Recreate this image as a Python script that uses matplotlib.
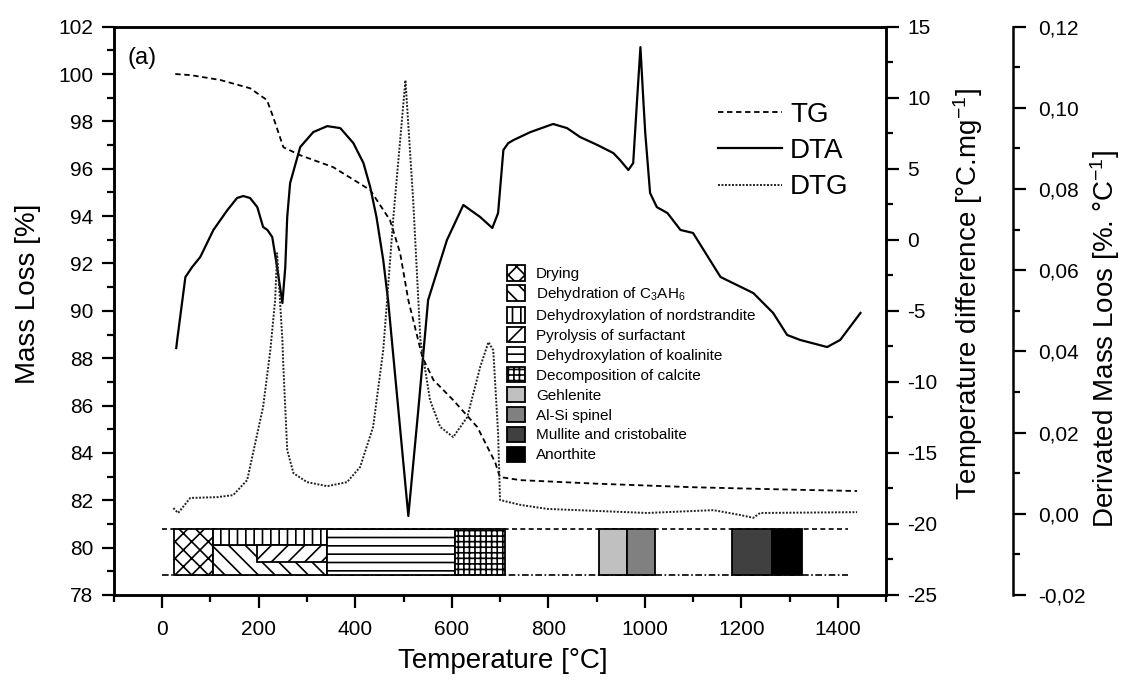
import matplotlib
matplotlib.use("Agg")
import matplotlib.pyplot as plt
from matplotlib.patches import Patch
from matplotlib.lines import Line2D
from matplotlib.ticker import MultipleLocator, FuncFormatter

plt.rcParams["font.family"] = ["Liberation Sans", "DejaVu Sans"]
plt.rcParams["mathtext.fontset"] = "custom"
plt.rcParams["mathtext.rm"] = "Liberation Sans"
plt.rcParams["mathtext.it"] = "Liberation Sans:italic"
plt.rcParams["axes.unicode_minus"] = False
plt.rcParams["hatch.linewidth"] = 1.2

# --- TG (mass loss, %) ---
tg_temp = [27, 60, 120, 182, 217, 230, 251, 286, 354, 431, 472, 493, 510, 539, 562,
           603, 653, 690, 697, 700, 742, 900, 1100, 1300, 1440]
tg_mass = [100.0, 99.95, 99.75, 99.4, 98.9, 98.18, 96.91, 96.57, 96.07, 95.1, 93.83,
           92.44, 90.45, 88.05, 87.08, 86.23, 85.09, 83.6, 83.15, 82.98, 82.85, 82.7,
           82.55, 82.45, 82.39]

# --- DTA (temperature difference, °C/mg) ---
dta_temp = [29, 31, 48, 62, 79, 106, 135, 155, 168, 182, 197, 209, 218, 228, 238, 249,
            255, 259, 265, 286, 313, 342, 369, 396, 417, 431, 444, 458, 468, 489, 510,
            531, 551, 590, 624, 659, 684, 696, 707, 717, 728, 763, 810, 839, 866, 902,
            935, 949, 966, 976, 984, 991, 997, 1001, 1011, 1025, 1047, 1074, 1100, 1157,
            1225, 1266, 1295, 1322, 1378, 1405, 1447]
dta_val = [-7.62, -7.05, -2.62, -1.92, -1.2, 0.69, 2.09, 2.94, 3.08, 2.94, 2.3, 0.9,
           0.69, 0.19, -1.92, -4.45, -1.92, 1.6, 3.99, 6.53, 7.58, 8.0, 7.86, 6.81, 5.4,
           3.71, 1.6, -1.43, -4.24, -11.84, -19.44, -11.84, -4.24, -0.02, 2.45, 1.6,
           0.83, 1.88, 6.32, 6.8, 7.02, 7.58, 8.15, 7.86, 7.23, 6.67, 6.1, 5.6, 4.91,
           5.4, 9.83, 13.56, 9.83, 7.51, 3.29, 2.3, 1.88, 0.69, 0.48, -2.62, -3.75,
           -5.15, -6.7, -7.05, -7.55, -7.05, -5.15]

# --- DTG (derivated mass loss, %/°C) ---
dtg_temp = [23, 33, 58, 114, 147, 176, 209, 224, 234, 238, 249, 251, 259, 272, 300,
            342, 383, 410, 437, 458, 466, 479, 504, 520, 535, 555, 576, 603, 632, 659,
            676, 686, 696, 700, 742, 798, 1005, 1142, 1198, 1225, 1239, 1440]
dtg_val = [0.0014, 0.0002, 0.0039, 0.0041, 0.0046, 0.0083, 0.0263, 0.0403, 0.0527,
           0.0642, 0.0428, 0.0362, 0.0157, 0.0100, 0.0078, 0.0068, 0.0078, 0.0115,
           0.0214, 0.0403, 0.0527, 0.0731, 0.1068, 0.0773, 0.0428, 0.0280, 0.0214,
           0.0189, 0.0238, 0.0362, 0.0423, 0.0403, 0.0199, 0.0034, 0.0022, 0.0012,
           0.0002, 0.0009, -0.0003, -0.0010, 0.0002, 0.0004]

# --- phase bands (temperature ranges, drawn in TG units) ---
phase_names = ["Drying", "Dehydration of C$_3$AH$_6$", "Dehydroxylation of nordstrandite",
               "Pyrolysis of surfactant", "Dehydroxylation of koalinite",
               "Decomposition of calcite", "Gehlenite", "Al-Si spinel",
               "Mullite and cristobalite", "Anorthite"]
phase_start = [25, 105, 105, 197, 342, 607, 906, 964, 1181, 1264]
phase_end = [105, 342, 342, 342, 607, 711, 964, 1022, 1264, 1326]
phase_low = [78.84, 78.84, 80.11, 79.39, 78.84, 78.84, 78.84, 78.84, 78.84, 78.84]
phase_high = [80.79, 80.11, 80.79, 80.11, 80.79, 80.79, 80.79, 80.79, 80.79, 80.79]
phase_hatch = ["xx", "\\\\", "||", "//", "--", "+++", "", "", "", ""]
phase_legend_hatch = ["xx", "\\\\", "||", "//", "--", "+++", "", "", "", ""]
phase_color = ["white", "white", "white", "white", "white", "white",
               "#c0c0c0", "#808080", "#404040", "#000000"]
band_temp = [0, 1422]
band_top = 80.79
band_bottom = 78.84

fig = plt.figure(figsize=(11.23, 6.82), dpi=100)
ax = fig.add_axes([0.1015, 0.1276, 0.6875, 0.8333])
ax2 = ax.twinx()
ax3 = ax.twinx()

# phase band outline
ax.plot(band_temp, [band_top, band_top], color="black", lw=1.2, ls=(0, (3, 2)), zorder=1)
ax.plot(band_temp, [band_bottom, band_bottom], color="black", lw=1.2,
        ls=(0, (4, 1.5, 1, 1.5)), zorder=1)
for s, e, lo, hi, h, c in zip(phase_start, phase_end, phase_low, phase_high, phase_hatch, phase_color):
    ax.bar(s, hi - lo, width=e - s, bottom=lo, align="edge", facecolor=c,
           edgecolor="black", hatch=h, linewidth=1.3, zorder=2)

ax.plot(tg_temp, tg_mass, color="black", lw=1.3, ls=(0, (3, 2)))
ax2.plot(dta_temp, dta_val, color="black", lw=1.6)
ax3.plot(dtg_temp, dtg_val, color="#222222", lw=1.4, ls=(0, (1, 0.8)))

ax.set_xlim(-100, 1500)
ax.set_ylim(78, 102)
ax2.set_ylim(-25, 15)
ax3.set_ylim(-0.02, 0.12)

ax.xaxis.set_major_locator(MultipleLocator(200))
ax.xaxis.set_minor_locator(MultipleLocator(100))
ax.yaxis.set_major_locator(MultipleLocator(2))
ax.yaxis.set_minor_locator(MultipleLocator(1))
ax2.yaxis.set_major_locator(MultipleLocator(5))
ax2.yaxis.set_minor_locator(MultipleLocator(2.5))
ax3.yaxis.set_major_locator(MultipleLocator(0.02))
ax3.yaxis.set_minor_locator(MultipleLocator(0.01))
ax3.yaxis.set_major_formatter(FuncFormatter(lambda v, p: f"{v:.2f}".replace(".", ",")))

ax3.spines["right"].set_position(("axes", 1.165))
for sp in ("top", "bottom", "left"):
    ax3.spines[sp].set_visible(False)

for a in (ax, ax2, ax3):
    for sp in a.spines.values():
        sp.set_linewidth(1.8)
    a.tick_params(which="major", direction="out", length=9, width=1.6, labelsize=15, pad=6)
    a.tick_params(which="minor", direction="out", length=5, width=1.6)
ax.tick_params(axis="x", which="major", pad=9)
ax3.tick_params(axis="y", which="major", pad=9)
ax.tick_params(axis="x", which="both", top=False)

ax.set_xlabel("Temperature [°C]", fontsize=20)
ax.set_ylabel("Mass Loss [%]", fontsize=20)
ax2.set_ylabel("Temperature difference [°C.mg$^{-1}$]", fontsize=20)
ax3.set_ylabel("Derivated Mass Loos [%. °C$^{-1}$]", fontsize=20)
ax.xaxis.set_label_coords(0.504, -0.093)
ax.yaxis.set_label_coords(-0.094, 0.53)
ax2.yaxis.set_label_coords(1.085, 0.53)
ax3.yaxis.set_label_coords(1.262, 0.45)

ax.text(0.018, 0.945, "(a)", transform=ax.transAxes, fontsize=17, va="center", ha="left")

curve_handles = [
    Line2D([], [], color="black", lw=1.3, ls=(0, (3, 2))),
    Line2D([], [], color="black", lw=1.6),
    Line2D([], [], color="#222222", lw=1.4, ls=(0, (1, 0.8))),
]
leg1 = ax3.legend(curve_handles, ["TG", "DTA", "DTG"], loc="upper left",
                  bbox_to_anchor=(0.782, 0.868), frameon=False, fontsize=20,
                  handlelength=2.3, handletextpad=0.3, labelspacing=0.37,
                  borderpad=0, borderaxespad=0)
ax3.add_artist(leg1)

phase_handles = [Patch(facecolor=c, edgecolor="black", hatch=h, linewidth=1.3)
                 for h, c in zip(phase_legend_hatch, phase_color)]
ax3.legend(phase_handles, phase_names, loc="upper left", bbox_to_anchor=(0.509, 0.58),
           frameon=False, fontsize=11, handlelength=1.15, handleheight=1.15,
           handletextpad=0.75, labelspacing=0.27, borderpad=0, borderaxespad=0)

fig.savefig("out.png", dpi=100, facecolor="white")
